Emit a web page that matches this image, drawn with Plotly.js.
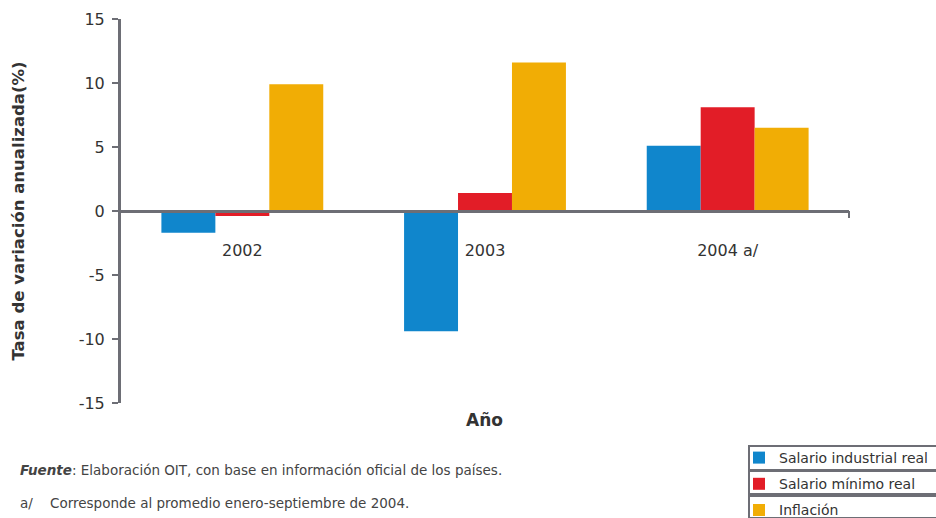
<!DOCTYPE html>
<html>
<head>
<meta charset="utf-8">
<script src="https://cdn.plot.ly/plotly-3.0.1.min.js"></script>
<style>html,body{margin:0;padding:0;background:#fff;}#chart{width:936px;height:518px;}</style>
</head>
<body>
<div id="chart"></div>
<script>
const categories = ["2002", "2003", "2004 a/"];
const salarioIndustrial = [-1.7, -9.4, 5.1];
const salarioMinimo = [-0.4, 1.4, 8.1];
const inflacion = [9.9, 11.6, 6.5];
const seriesNames = ["Salario industrial real", "Salario mínimo real", "Inflación"];
const yTickVals = [15, 10, 5, 0, -5, -10, -15];
const yTickText = ["15", "10", "5", "0", "-5", "-10", "-15"];

const colors = ["#1086cc", "#e21d27", "#f1ad05"];
const gray = "#6d6e75";
const FONT = "DejaVu Sans, Verdana, sans-serif";

const W = 936, H = 518, L = 121, R = 87, T = 19, B = 115;
const pw = W - L - R, ph = H - T - B;
const px = x => (x - L) / pw;
const py = y => (H - B - y) / ph;

const seriesData = [salarioIndustrial, salarioMinimo, inflacion];
const traces = seriesData.map((vals, i) => ({
  type: "bar",
  x: categories,
  y: vals,
  name: seriesNames[i],
  legendgroup: "g" + i,
  marker: {color: colors[i], line: {width: 0}},
  hoverinfo: "x+y+name"
}));

const legendRows = [[446, 470], [471, 494], [496, 518]];
const shapes = legendRows.map(r => ({
  type: "rect", xref: "paper", yref: "paper",
  x0: px(749), x1: px(945), y0: py(r[1]), y1: py(r[0]),
  line: {color: gray, width: 2}, fillcolor: "rgba(0,0,0,0)"
}));
shapes.push({
  type: "line", xref: "paper", yref: "y", ysizemode: "pixel", yanchor: 0,
  x0: 1, x1: 1, y0: 0, y1: -7, line: {color: gray, width: 2}
});

const layout = {
  width: W, height: H,
  margin: {l: L, r: R, t: T, b: B, autoexpand: false},
  paper_bgcolor: "#fff", plot_bgcolor: "#fff",
  font: {family: FONT, color: "#333", size: 13},
  barmode: "group", bargap: 0.333, bargroupgap: 0,
  showlegend: true,
  legend: {
    x: px(739), y: py(442), xanchor: "left", yanchor: "top",
    traceorder: "grouped", tracegroupgap: 5,
    font: {family: FONT, size: 14, color: "#333"},
    bgcolor: "rgba(0,0,0,0)", borderwidth: 0, itemwidth: 30
  },
  xaxis: {
    type: "category",
    anchor: "free", position: 0.5,
    showline: true, linecolor: gray, linewidth: 3,
    ticks: "", showgrid: false, zeroline: false,
    ticklabelstandoff: 24,
    tickfont: {family: FONT, size: 16, color: "#333"}
  },
  yaxis: {
    range: [-15, 15],
    tickmode: "array", tickvals: yTickVals, ticktext: yTickText,
    showline: true, linecolor: gray, linewidth: 3,
    ticks: "outside", ticklen: 6, tickwidth: 2, tickcolor: gray,
    showgrid: false, zeroline: false,
    ticklabelstandoff: 4,
    tickfont: {family: FONT, size: 16, color: "#333"},
    title: {text: "Tasa de variación anualizada(%)", font: {family: FONT, size: 16.5, color: "#333", weight: "bold"}, standoff: 50}
  },
  shapes: shapes,
  annotations: [
    {xref: "paper", yref: "paper", x: px(484), y: py(420), xanchor: "center", yanchor: "middle",
     text: "<b>Año</b>", showarrow: false, font: {family: FONT, size: 17, color: "#333"}},
    {xref: "paper", yref: "paper", x: px(18), y: py(470), xanchor: "left", yanchor: "middle",
     text: "<b><i>Fuente</i></b>: Elaboración OIT, con base en información oficial de los países.",
     showarrow: false, font: {family: FONT, size: 13.5, color: "#444"}},
    {xref: "paper", yref: "paper", x: px(18), y: py(503), xanchor: "left", yanchor: "middle",
     text: "a/    Corresponde al promedio enero-septiembre de 2004.",
     showarrow: false, font: {family: FONT, size: 13.5, color: "#444"}}
  ]
};

Plotly.newPlot("chart", traces, layout, {displayModeBar: false, staticPlot: true});
</script>
</body>
</html>
